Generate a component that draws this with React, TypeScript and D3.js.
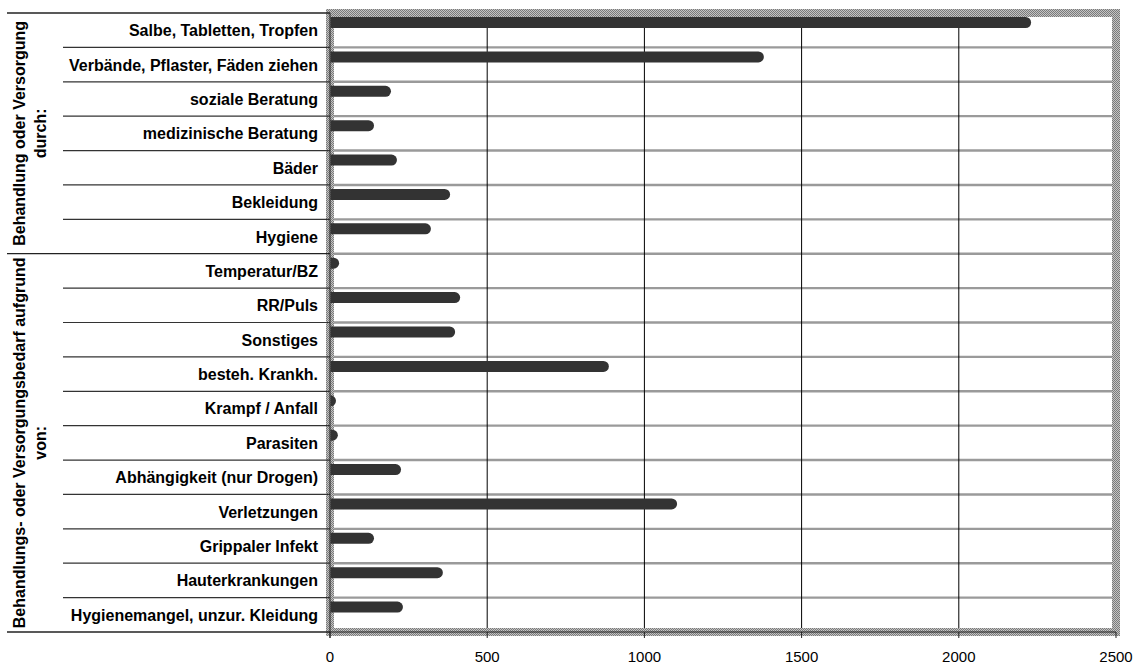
import React from "react";
import * as d3 from "d3";

// Categories, top to bottom
const categories: string[] = [
  "Salbe, Tabletten, Tropfen",
  "Verbände, Pflaster, Fäden ziehen",
  "soziale Beratung",
  "medizinische Beratung",
  "Bäder",
  "Bekleidung",
  "Hygiene",
  "Temperatur/BZ",
  "RR/Puls",
  "Sonstiges",
  "besteh. Krankh.",
  "Krampf / Anfall",
  "Parasiten",
  "Abhängigkeit (nur Drogen)",
  "Verletzungen",
  "Grippaler Infekt",
  "Hauterkrankungen",
  "Hygienemangel, unzur. Kleidung",
];

const values: number[] = [
  2230, 1380, 194, 140, 213, 382, 321, 29, 414, 398, 887, 19, 25, 226, 1104, 140, 359, 232,
];

// Category groups: label lines and the number of rows each spans
const groupLabels: string[][] = [
  ["Behandlung oder Versorgung", "durch:"],
  ["Behandlungs- oder Versorgungsbedarf aufgrund", "von:"],
];
const groupSizes: number[] = [7, 11];

const xTicks: number[] = [0, 500, 1000, 1500, 2000, 2500];

const W = 1140;
const H = 664;
const plot = { left: 330, right: 1116, top: 13, bottom: 632 };
const FONT = "'Liberation Sans', Arial, sans-serif";

export default function App() {
  const x = d3.scaleLinear().domain([0, 2500]).range([plot.left, plot.right]);
  const y = d3
    .scaleBand<string>()
    .domain(categories)
    .range([plot.top, plot.bottom])
    .paddingInner(0)
    .paddingOuter(0);
  const bw = y.bandwidth();
  const barTop = 4;
  const barH = 11;
  const r = barH / 2;

  // group boundaries in pixel space
  const groupBounds: { y0: number; y1: number; lines: string[] }[] = [];
  let idx = 0;
  groupSizes.forEach((n, gi) => {
    const y0 = y(categories[idx])!;
    const y1 = y(categories[idx + n - 1])! + bw;
    groupBounds.push({ y0, y1, lines: groupLabels[gi] });
    idx += n;
  });

  const rowLines = categories.slice(1).map((c) => y(c)!);
  const groupEdges = [plot.top, ...groupBounds.map((g) => g.y1)];

  return (
    <svg
      width={W}
      height={H}
      style={{ position: "absolute", left: 0, top: 0, background: "#fff" }}
      fontFamily={FONT}
    >
      <defs>
        <pattern id="hatch" width="2" height="2" patternUnits="userSpaceOnUse">
          <rect width="2" height="2" fill="#c4c4c4" />
          <rect width="1" height="1" fill="#7a7a7a" />
          <rect x="1" y="1" width="1" height="1" fill="#7a7a7a" />
        </pattern>
        <clipPath id="plotClip">
          <rect x={plot.left + 0.5} y={plot.top} width={plot.right - plot.left} height={plot.bottom - plot.top} />
        </clipPath>
      </defs>

      {/* horizontal row gridlines in plot */}
      {rowLines.map((yy, i) => (
        <line key={"hg" + i} x1={plot.left} x2={plot.right} y1={yy} y2={yy} stroke="#9a9a9a" strokeWidth={2.4} />
      ))}

      {/* vertical value gridlines */}
      {xTicks.slice(1, -1).map((t) => (
        <line key={"vg" + t} x1={x(t)} x2={x(t)} y1={plot.top} y2={plot.bottom} stroke="#000" strokeWidth={1} />
      ))}

      {/* plot frame */}
      <rect
        x={plot.left}
        y={plot.top}
        width={plot.right - plot.left}
        height={plot.bottom - plot.top}
        fill="none"
        stroke="url(#hatch)"
        strokeWidth={8}
      />

      {/* axis lines and ticks */}
      <line x1={plot.left} x2={plot.left} y1={plot.top} y2={plot.bottom + 6} stroke="#222" strokeWidth={1} />
      <line x1={plot.left} x2={plot.right} y1={plot.bottom} y2={plot.bottom} stroke="#222" strokeWidth={1} />
      {xTicks.map((t) => (
        <g key={"t" + t}>
          <line x1={x(t)} x2={x(t)} y1={plot.bottom} y2={plot.bottom + 6} stroke="#222" strokeWidth={1} />
          <text x={x(t)} y={plot.bottom + 30} textAnchor="middle" fontSize={15} fill="#000">
            {t}
          </text>
        </g>
      ))}

      {/* bars */}
      <g clipPath="url(#plotClip)">
        {categories.map((c, i) => (
          <rect
            key={"b" + c}
            x={x(0) - 10}
            y={y(c)! + barTop}
            width={x(values[i]) - x(0) + 10}
            height={barH}
            rx={r}
            ry={r}
            fill="#333333"
          />
        ))}
      </g>

      {/* category label separators */}
      {rowLines
        .filter((yy) => !groupEdges.some((g) => Math.abs(g - yy) < 0.5))
        .map((yy, i) => (
          <line key={"rl" + i} x1={63} x2={plot.left} y1={yy} y2={yy} stroke="#333" strokeWidth={1.2} />
        ))}
      {groupEdges.map((yy, i) => (
        <line key={"gl" + i} x1={7} x2={plot.left} y1={yy} y2={yy} stroke="#222" strokeWidth={1.3} />
      ))}

      {/* category labels */}
      {categories.map((c) => (
        <text
          key={"l" + c}
          x={318}
          y={y(c)! + bw / 2 + 6}
          textAnchor="end"
          fontSize={16}
          fontWeight="bold"
          fill="#000"
        >
          {c}
        </text>
      ))}

      {/* group labels */}
      {groupBounds.map((g, gi) => {
        const cy = (g.y0 + g.y1) / 2;
        return (
          <g key={"g" + gi}>
            {g.lines.map((ln, li) => {
              const cx = 25 + li * 21;
              return (
                <text
                  key={li}
                  x={0}
                  y={0}
                  transform={`translate(${cx},${cy}) rotate(-90)`}
                  textAnchor="middle"
                  fontSize={16}
                  fontWeight="bold"
                  fill="#000"
                >
                  {ln}
                </text>
              );
            })}
          </g>
        );
      })}
    </svg>
  );
}
